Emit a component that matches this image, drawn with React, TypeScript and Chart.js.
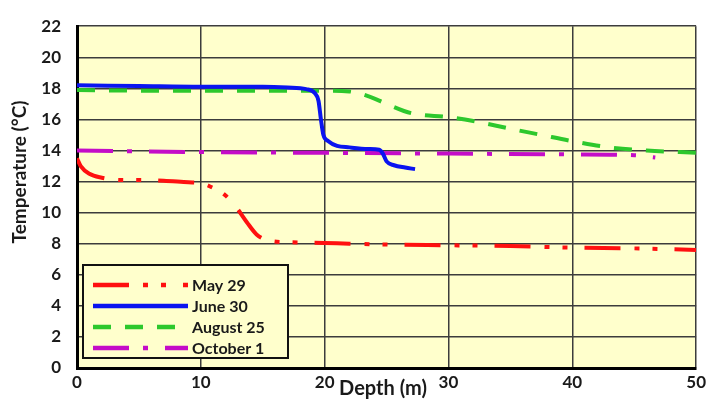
import { useEffect, useRef } from "react";
import { Chart, registerables } from "chart.js";

Chart.register(...registerables);

// Temperature profiles by depth for four survey dates
const seriesLabels = ["May 29", "June 30", "August 25", "October 1"];

const may29Depth = [0, 0.3, 1, 2, 3.5, 5, 7, 9, 10, 10.7, 12, 12.9, 13.7, 14.5, 15.5, 17, 20, 22, 25, 30, 35, 40, 45, 50];
const may29Temp = [13.5, 13.0, 12.5, 12.25, 12.1, 12.1, 12.05, 11.95, 11.9, 11.7, 11.1, 10.3, 9.4, 8.6, 8.2, 8.1, 8.05, 8.0, 7.95, 7.9, 7.85, 7.75, 7.7, 7.6];

const june30Depth = [0, 5, 10, 15, 17, 18.5, 19.2, 19.5, 19.7, 19.9, 20.3, 21, 22, 23.5, 24.4, 24.7, 25, 25.6, 26.5, 27.3];
const june30Temp = [18.2, 18.15, 18.1, 18.1, 18.05, 17.95, 17.7, 17.2, 16.0, 15.0, 14.6, 14.3, 14.2, 14.1, 14.05, 13.8, 13.3, 13.05, 12.9, 12.8];

const aug25Depth = [0, 5, 10, 15, 20, 22, 23.5, 25, 27, 30, 32, 35, 37.5, 40, 43, 46, 50];
const aug25Temp = [17.9, 17.85, 17.85, 17.85, 17.85, 17.8, 17.5, 17.0, 16.4, 16.15, 15.9, 15.4, 15.0, 14.6, 14.2, 14.0, 13.85];

const oct1Depth = [0, 10, 20, 30, 40, 45, 46.7];
const oct1Temp = [14.0, 13.9, 13.85, 13.8, 13.75, 13.7, 13.55];

const depthMin = 0;
const depthMax = 50;
const depthStep = 10;
const tempMin = 0;
const tempMax = 22;
const tempStep = 2;

const xTitle = "Depth (m)";
const yTitle = "Temperature (°C)";

const FONT = "Lato, 'Open Sans', sans-serif";
const PLOT_BG = "#FFFFCC";

const toPoints = (xs: number[], ys: number[]) => xs.map((x, i) => ({ x, y: ys[i] }));

const plotBackground = {
  id: "plotBackground",
  beforeDraw(chart: any) {
    const { ctx, chartArea } = chart;
    ctx.save();
    ctx.fillStyle = PLOT_BG;
    ctx.fillRect(chartArea.left, chartArea.top, chartArea.right - chartArea.left, chartArea.bottom - chartArea.top);
    ctx.restore();
  },
};

const axisTitles = {
  id: "axisTitles",
  afterDraw(chart: any) {
    const { ctx } = chart;
    ctx.save();
    ctx.fillStyle = "#1a1a1a";
    ctx.textAlign = "center";
    ctx.textBaseline = "middle";
    ctx.font = `bold 20px ${FONT}`;
    ctx.fillText(xTitle, 383, 389);
    ctx.font = `bold 19px ${FONT}`;
    ctx.translate(20, 172);
    ctx.rotate(-Math.PI / 2);
    ctx.fillText(yTitle, 0, 0);
    ctx.restore();
  },
};

const boxedLegend = {
  id: "boxedLegend",
  afterDraw(chart: any) {
    const { ctx } = chart;
    const x0 = 83;
    const y0 = 265;
    const w = 205;
    const h = 93;
    ctx.save();
    ctx.fillStyle = PLOT_BG;
    ctx.fillRect(x0, y0, w, h);
    ctx.strokeStyle = "#111";
    ctx.lineWidth = 2;
    ctx.strokeRect(x0, y0, w, h);
    chart.data.datasets.forEach((ds: any, i: number) => {
      const y = y0 + 20 + i * 21;
      ctx.beginPath();
      ctx.setLineDash(ds.borderDash || []);
      ctx.strokeStyle = ds.borderColor;
      ctx.lineWidth = 4.5;
      ctx.moveTo(93, y);
      ctx.lineTo(188, y);
      ctx.stroke();
      ctx.setLineDash([]);
      ctx.fillStyle = "#1a1a1a";
      ctx.font = `bold 16px ${FONT}`;
      ctx.textAlign = "left";
      ctx.textBaseline = "middle";
      ctx.fillText(ds.label, 192, y + 1);
    });
    ctx.restore();
  },
};

export default function App() {
  const canvasRef = useRef<HTMLCanvasElement | null>(null);

  useEffect(() => {
    if (!canvasRef.current) return;
    const line = {
      borderWidth: 4,
      pointRadius: 0,
      fill: false,
      cubicInterpolationMode: "monotone" as const,
      borderCapStyle: "butt" as const,
    };
    const chart = new Chart(canvasRef.current, {
      type: "line",
      data: {
        datasets: [
          { ...line, label: seriesLabels[0], data: toPoints(may29Depth, may29Temp), borderColor: "#FF1010", borderDash: [36, 14, 5, 13, 5, 17] },
          { ...line, label: seriesLabels[1], data: toPoints(june30Depth, june30Temp), borderColor: "#0A14F0", borderDash: [] },
          { ...line, label: seriesLabels[2], data: toPoints(aug25Depth, aug25Temp), borderColor: "#2DC82D", borderDash: [18, 14] },
          { ...line, label: seriesLabels[3], data: toPoints(oct1Depth, oct1Temp), borderColor: "#C40CC8", borderDash: [36, 14, 5, 17] },
        ],
      },
      options: {
        responsive: false,
        devicePixelRatio: 1,
        animation: false,
        layout: { padding: { top: 16, right: 11, bottom: 0, left: 0 } },
        plugins: {
          legend: { display: false },
          tooltip: { enabled: false },
        },
        scales: {
          x: {
            type: "linear",
            min: depthMin,
            max: depthMax,
            afterFit: (s: any) => {
              s.height = 32;
            },
            ticks: {
              stepSize: depthStep,
              padding: 4,
              color: "#1a1a1a",
              font: { family: FONT, weight: "bold", size: 17 },
            },
            grid: { color: "#3c3c3c", lineWidth: 1.5, drawTicks: false },
            border: { display: true, color: "#000", width: 3 },
          },
          y: {
            type: "linear",
            min: tempMin,
            max: tempMax,
            afterFit: (s: any) => {
              s.width = 77;
            },
            ticks: {
              stepSize: tempStep,
              padding: 16,
              color: "#1a1a1a",
              font: { family: FONT, weight: "bold", size: 17 },
            },
            grid: { color: "#3c3c3c", lineWidth: 1.5, drawTicks: false },
            border: { display: true, color: "#000", width: 3 },
          },
        },
      },
      plugins: [plotBackground, axisTitles, boxedLegend],
    });
    return () => chart.destroy();
  }, []);

  return (
    <div style={{ position: "fixed", left: 0, top: 0, width: 710, height: 400, background: "#fff" }}>
      <canvas ref={canvasRef} width={710} height={400} />
    </div>
  );
}
